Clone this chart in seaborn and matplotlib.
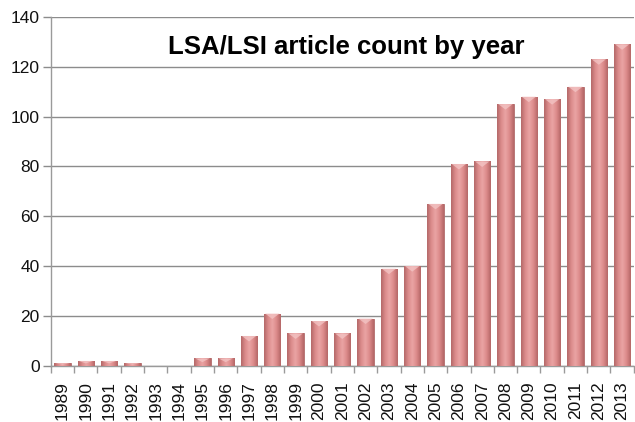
import numpy as np
import pandas as pd
import matplotlib
matplotlib.use("Agg")
import matplotlib.pyplot as plt
from matplotlib.colors import LinearSegmentedColormap
import seaborn as sns

years = [str(y) for y in range(1989, 2014)]
counts = [1, 2, 2, 1, 0, 0, 3, 3, 12, 21, 13, 18, 13, 19,
          39, 40, 65, 81, 82, 105, 108, 107, 112, 123, 129]
yticks = [0, 20, 40, 60, 80, 100, 120, 140]
title = "LSA/LSI article count by year"

df = pd.DataFrame({"year": years, "count": counts})

sns.set_theme(style="white")
plt.rcParams["font.family"] = ["Liberation Sans", "DejaVu Sans"]

fig = plt.figure(figsize=(6.35, 4.22), dpi=100)
ax = fig.add_axes([0.080, 0.133, 0.918, 0.827])

sns.barplot(data=df, x="year", y="count", color="#dc8a8a",
            width=0.70, edgecolor="#b06a6a", linewidth=0.6, ax=ax, zorder=3)

# cylinder-like shading across each bar
shade = LinearSegmentedColormap.from_list(
    "shade", ["#b46868", "#dc8c8c", "#eaa4a4", "#dc8a8a", "#b46666"])
grad = np.linspace(0, 1, 64).reshape(1, -1)
for p in ax.patches:
    x0, y0 = p.get_x(), p.get_y()
    w, h = p.get_width(), p.get_height()
    if h <= 0:
        continue
    im = ax.imshow(grad, cmap=shade, aspect="auto",
                   extent=[x0, x0 + w, y0, y0 + h], zorder=3.5,
                   interpolation="bicubic")
    im.set_clip_path(p)
    # lighter cap at the top of each bar
    cap = min(2.2, h * 0.5)
    ax.fill([x0 + w * 0.06, x0 + w * 0.94, x0 + w * 0.5],
            [y0 + h, y0 + h, y0 + h - cap],
            color="#f4c6c6", alpha=0.75, lw=0, zorder=3.6)

ax.set_xlim(-0.5, len(years) - 0.5)
ax.set_ylim(0, 140)
ax.set_yticks(yticks)
ax.set_xlabel("")
ax.set_ylabel("")
ax.yaxis.grid(True, color="#8c8c8c", linewidth=1.0, zorder=0)
ax.set_axisbelow(True)

for s in ["top", "right"]:
    ax.spines[s].set_visible(False)
for s in ["left", "bottom"]:
    ax.spines[s].set_color("#9a9a9a")
    ax.spines[s].set_linewidth(1.0)

ax.tick_params(axis="y", left=True, length=6, width=1.0, color="#8c8c8c",
               labelsize=12.5, pad=2, labelcolor="#111111")
ax.set_xticks(np.arange(len(years)))
ax.set_xticklabels(years, rotation=90)
ax.tick_params(axis="x", bottom=False, labelsize=12.5, pad=5,
               labelcolor="#111111")
ax.set_xticks(np.arange(-0.5, len(years), 1.0), minor=True)
ax.tick_params(axis="x", which="minor", bottom=True, length=5, width=1.0,
               color="#9a9a9a")

ax.text(0.507, 0.914, title, transform=ax.transAxes, ha="center",
        va="center", fontsize=18.5, fontweight="bold", color="#000000",
        zorder=5)

fig.savefig("out.png", dpi=100)
